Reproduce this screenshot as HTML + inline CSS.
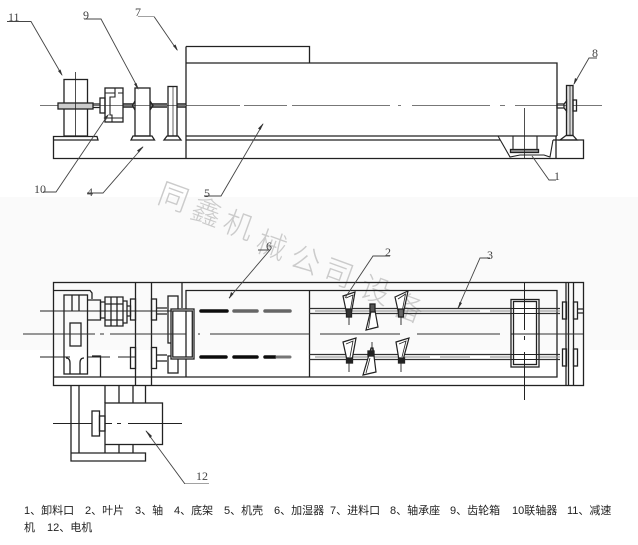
<!DOCTYPE html>
<html lang="zh">
<head>
<meta charset="utf-8">
<style>
html,body{margin:0;padding:0;background:#fff}
svg{display:block}
.wm text{font-family:"Noto Sans CJK SC",sans-serif;font-weight:300;text-anchor:middle}
.num text{font-family:"Liberation Serif",serif}
.leg text{font-family:"Liberation Sans","Noto Sans CJK SC",sans-serif}
</style>
</head>
<body>
<svg width="638" height="545" viewBox="0 0 638 545" xmlns="http://www.w3.org/2000/svg">
<defs><filter id="b" x="0" y="0" width="100%" height="100%"><feGaussianBlur stdDeviation="0.35"/></filter></defs>
<rect width="638" height="545" fill="#fff"/>
<rect y="197" width="638" height="153" fill="#fafafa"/>

<g class="wm" fill="#cbcbcb" font-size="30">
<text transform="translate(170,207) rotate(20)">同</text>
<text transform="translate(203,222) rotate(20)">鑫</text>
<text transform="translate(235,235) rotate(20)">机</text>
<text transform="translate(268,255) rotate(20)">械</text>
<text transform="translate(302,270) rotate(20)">公</text>
<text transform="translate(335,283) rotate(20)">司</text>
<text transform="translate(372,300) rotate(20)">设</text>
<text transform="translate(405,318) rotate(20)">备</text>
</g>

<g fill="none" stroke="#222" stroke-width="1.300" filter="url(#b)">

<!-- TOP VIEW -->
<path d="M40 105.500H185M186 105.500H240M244 105.500H287M292 105.500H390M398 105.500H401M412 105.500H490M500 105.500H505M515 105.500H602" stroke="#777" stroke-width="1"/>
<path d="M53.500 136.500H97L98 140H53.500ZM53.500 140V158.500H583.500V140H553M186 140H500"/>
<path d="M186 46.500H309.500V63M186 158.500V46.500M186 63H557V136M186 136H557"/>
<path d="M556 136V158.500"/>
<!-- discharge -->
<path d="M498 136L510 157L520 155H544L550 157L553 140M513 136V150M537 136V150" stroke-width="1.100"/>
<rect x="510.500" y="149.500" width="28" height="3" fill="#999"/>
<path d="M524.500 108V158" stroke-width=".8"/>
<!-- motor 11 -->
<rect x="64" y="79.500" width="23.500" height="56.500"/>
<rect x="58" y="103" width="35" height="6" fill="#ccc"/>
<path d="M75.500 72V137" stroke-width=".8"/>
<path d="M93 104H100M93 107.500H100"/>
<!-- coupling 10 -->
<rect x="100" y="98" width="5" height="15"/>
<rect x="105" y="88" width="18" height="34"/>
<path d="M115 88V97H110V115H112V122M105 93H115M118 93H123M105 118H123" stroke-width="1.100"/>
<path d="M123 104H133M123 107H133" stroke-width="1.500"/>
<!-- gearbox 9 -->
<rect x="135" y="88" width="15" height="48"/>
<path d="M135 101L132.500 105.500L135 110M150 101L153 105.500L150 110"/>
<path d="M131 140L133 136H152L154.500 140Z"/>
<path d="M150 104H167M150 107H167M177 104H186M177 107H186" stroke-width="1.400"/>
<!-- bearing -->
<rect x="168" y="86.500" width="9" height="49.500"/>
<path d="M173 87V136" stroke-width=".7"/>
<path d="M164 140L167 136H178L181 140Z"/>
<!-- right bearing 8 -->
<rect x="566.500" y="85.500" width="6.500" height="50" fill="#ddd"/>
<path d="M570 86V135" stroke-width=".8"/>
<path d="M557 104H564V108H557ZM564 104L566.500 101V111L564 108"/>
<rect x="573" y="100" width="3.500" height="11"/>
<path d="M560 140L566 135.500H573L577 140H560Z"/>

<!-- BOTTOM VIEW -->
<rect x="53.500" y="282.500" width="530" height="103"/>
<path d="M53.500 377H186M186 290.500H557V377H186ZM53.500 290.500H90L92 293V299"/>
<path d="M309.500 290.500V377"/>
<path d="M135.500 282.500V385.500M151.500 282.500V385.500M182 282.500V308"/>
<path d="M566 282.500V385.500M568.500 282.500V385.500M573.500 282.500V385.500"/>
<!-- gearbox plan -->
<rect x="64" y="295" width="23.500" height="79"/>
<path d="M72 295V311M79 295V311M70 374V363Q70 358 66 358M80 374V363Q80 358 84 358"/>
<rect x="70" y="323" width="11" height="23"/>
<path d="M87.500 300H100.500V320H87.500M92 356H100.500V377"/>
<!-- coupling plan -->
<path d="M100.500 302H105V318H100.500ZM105 297H123V326H105ZM111 297V326M117 297V326M105 304H123M105 320H123"/>
<path d="M123 301H127V323H123M127 306H130.500V316H127"/>
<rect x="130.500" y="299" width="5" height="21"/>
<rect x="130.500" y="347.500" width="5" height="21"/>
<rect x="151.500" y="299" width="5" height="21"/>
<rect x="151.500" y="347.500" width="5" height="21"/>
<path d="M156.500 308H167M156.500 314H167M156.500 355H167M156.500 361H167" stroke-width="1.300"/>
<rect x="168" y="296" width="10" height="47"/>
<rect x="168" y="356" width="10" height="17"/>
<!-- inlet 7 frame -->
<rect x="171" y="309" width="23" height="50" fill="#fff"/>
<rect x="172.800" y="311" width="19.500" height="46"/>
<path d="M186 311V357"/>
<!-- center lines -->
<path d="M23 334H95M100 334H104M110 334H186M198 334H200M210 334H310M320 334H400M417 334H500M512 334H517M530 334H583" stroke="#333" stroke-width="1"/>
<path d="M40 311H172M40 357H70M87 357H110M118 357H135" stroke-width="1"/>
<!-- shafts -->
<g stroke-linecap="round">
<path d="M201 311H227" stroke="#111" stroke-width="3.500"/>
<path d="M234 311H257" stroke="#666" stroke-width="3.500"/>
<path d="M265 311H290" stroke="#666" stroke-width="3.500"/>
<path d="M201 357H226M234 357H257M265 357H275" stroke="#111" stroke-width="3.500"/>
<path d="M277 357H290" stroke="#777" stroke-width="3"/>
</g>
<path d="M309 308.500H560M309 313.500H560M309 354.500H560M309 359.500H560" stroke="#333" stroke-width="1.300"/>
<path d="M315 311H480M490 311H510M540 311H560M315 357H430M440 357H470M490 357H560" stroke="#888" stroke-width="1"/>
<!-- right inner frame -->
<rect x="511" y="299.500" width="28" height="67.500" fill="#fff" stroke-width="1.300"/>
<rect x="513.500" y="301.500" width="23" height="63"/>
<path d="M511 308.500H539M511 313.500H539M511 354.500H539M511 359.500H539" stroke-width="1"/>
<path d="M511 334H539" stroke-width="1"/>
<path d="M524.500 282V330M524.500 336V340M524.500 352V400" stroke-width="1"/>
<!-- right bearings -->
<rect x="562.500" y="302" width="4" height="17"/>
<rect x="573.500" y="302" width="4" height="17"/>
<rect x="562.500" y="349" width="4" height="17"/>
<rect x="573.500" y="349" width="4" height="17"/>
<path d="M577.500 309H583M577.500 313H583"/>
<!-- blades -->
<g stroke-width="1.200" fill="#fff">
<path d="M343 296L355 292L351 315H347Z"/>
<path d="M395 297L408 291L403 315H399Z"/>
<path d="M372 305L366 330L378 327L374 305Z"/>
<path d="M343 342L356 338L352 360H347Z"/>
<path d="M396 342L409 338L403 360H399Z"/>
<path d="M371 348L363 375L376 372L373 348Z"/>
</g>
<path d="M346 298L353 295L350 312M398 299L405.500 294L402 312M371 312L368.500 328M346 344L353 341L350 357M399 344L406 341L402 357M370 358L366 373" stroke-width=".8"/>
<path d="M349 315V325M349 362V372M401 315V325M401 362V372M372 342V352" stroke-width=".9"/>
<rect x="346.500" y="309" width="5" height="8" fill="#333"/>
<rect x="398.500" y="309" width="5" height="8" fill="#666"/>
<rect x="370" y="304" width="5" height="8" fill="#555"/>
<rect x="346.500" y="358" width="6" height="5" fill="#222"/>
<rect x="398.500" y="358" width="6" height="5" fill="#222"/>
<rect x="368" y="351" width="6" height="5" fill="#222"/>
<!-- motor 12 -->
<path d="M71 386V461H145.500V453H71M79 386V453M105 386V403M119 386V403M133 386V403M145.500 386V403M105 445V453M119 445V453M133 445V453"/>
<rect x="105" y="403" width="57.500" height="41.500"/>
<rect x="92" y="411" width="7.500" height="25"/>
<rect x="99.500" y="416" width="5.500" height="15"/>
<path d="M53 423.500H92M105 423.500H112M117 423.500H121M128 423.500H182" stroke-width=".9"/>

<!-- LEADERS -->
<g stroke="#444" stroke-width=".9">
<path d="M7 21.500H31L62 75"/>
<path d="M84 19H101L138 88"/>
<path d="M138 16.500H154L177 50"/>
<path d="M597 58H589L574 84"/>
<path d="M43 192H56L108 115"/>
<path d="M87 193H103L143 147"/>
<path d="M204 196H221L263 124"/>
<path d="M556 180H549L532 156"/>
<path d="M258 250H270L229 298"/>
<path d="M390 256H373L345 298"/>
<path d="M490 258H480L458 308"/>
<path d="M209 484H185L146 431"/>
</g>
<g fill="#333" stroke="none">
<path d="M62.500 76L58 71L60.500 69.500Z"/>
<path d="M138.500 90L134 84L136.500 83Z"/>
<path d="M178 51L173 46L175.500 44.500Z"/>
<path d="M573.500 85L575 78L577.500 79.500Z"/>
<path d="M109 114L106 120L103.500 118Z"/>
<path d="M143.500 146L139 152.500L137 150.500Z"/>
<path d="M263.500 123L260.500 130L258 128.500Z"/>
<path d="M229 299L231 292L233.500 294Z"/>
<path d="M458 309L459.500 302L462 303Z"/>
<path d="M145.500 430L152 436L150 438Z"/>
</g>
</g>

<!-- callout numbers -->
<g class="num" fill="#444" font-size="12">
<text x="8" y="21">11</text>
<text x="83" y="19">9</text>
<text x="135" y="16">7</text>
<text x="592" y="57">8</text>
<text x="34" y="193">10</text>
<text x="87" y="196">4</text>
<text x="204" y="197">5</text>
<text x="554" y="180">1</text>
<text x="266" y="250">6</text>
<text x="385" y="256">2</text>
<text x="487" y="259">3</text>
<text x="196" y="480">12</text>
</g>

<!-- legend -->
<g class="leg" fill="#222" font-size="11">
<text x="24" y="514">1、卸料口</text>
<text x="85" y="514">2、叶片</text>
<text x="135" y="514">3、轴</text>
<text x="174" y="514">4、底架</text>
<text x="224" y="514">5、机壳</text>
<text x="274" y="514">6、加湿器</text>
<text x="330" y="514">7、进料口</text>
<text x="390" y="514">8、轴承座</text>
<text x="450" y="514">9、齿轮箱</text>
<text x="512" y="514">10联轴器</text>
<text x="567" y="514">11、减速</text>
<text x="24" y="531">机</text>
<text x="47" y="531">12、电机</text>
</g>
</svg>
</body>
</html>
